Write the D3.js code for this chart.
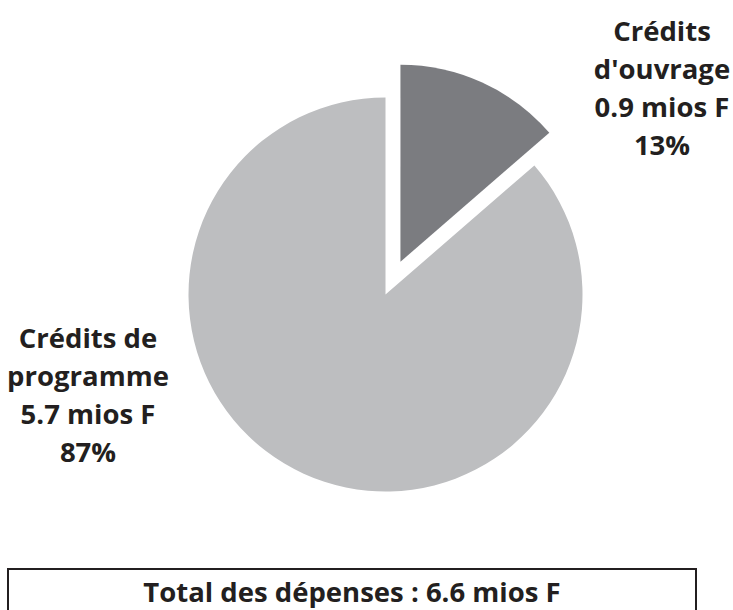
<!DOCTYPE html>
<html>
<head>
<meta charset="utf-8">
<script src="https://cdn.jsdelivr.net/npm/d3@7"></script>
<style>
  body { margin: 0; background: #fff; }
  #chart { width: 733px; height: 610px; }
</style>
</head>
<body>
<div id="chart"></div>
<script>
// data
const categories = ["Crédits d'ouvrage", "Crédits de programme"];
const values = [0.9, 5.7];
const labelLines = [
  ["Crédits", "d'ouvrage", "0.9 mios F", "13%"],
  ["Crédits de", "programme", "5.7 mios F", "87%"]
];
const totalLabel = "Total des dépenses : 6.6 mios F";
const colors = ["#7b7c80", "#bdbec0"];

const width = 733, height = 610;
const cx = 385.5, cy = 294.5, radius = 197,
  explode = 36; // offset of the first slice

const svg = d3.select('#chart').append('svg')
  .attr('width', width)
  .attr('height', height)
  .style('font-family', "'Open Sans', sans-serif")
  .style('font-weight', 'bold');

const pie = d3.pie().sort(null).value(d => d);
const arcs = pie(values);
const arc = d3.arc().innerRadius(0).outerRadius(radius);

const plot = svg.append('g')
  .attr('transform', `translate(${cx},${cy})`);

plot.selectAll('path')
  .data(arcs)
  .enter()
  .append('path')
  .attr('d', arc)
  .attr('fill', (d, i) => colors[i])
  .attr('transform', function(d, i) {
    if (i != 0) return null;
    const mid = (d.startAngle + d.endAngle) / 2;
    return `translate(${Math.sin(mid) * explode},${-Math.cos(mid) * explode})`;
  });

// labels
const labelPos = [{x: 662, y: 41}, {x: 88, y: 348}];
const lineH = 38;

labelLines.forEach(function(lines, i) {
  const t = svg.append('text')
    .attr('text-anchor', 'middle')
    .attr('fill', '#231f20')
    .style('font-size', '27.5px');
  lines.forEach(function(l, j) {
    t.append('tspan')
      .attr('x', labelPos[i].x)
      .attr('y', labelPos[i].y + j * lineH)
      .text(l);
  });
});

// total box
svg.append('rect')
  .attr('x', 8).attr('y', 569)
  .attr('width', 688).attr('height', 60)
  .attr('fill', 'none')
  .attr('stroke', '#231f20')
  .attr('stroke-width', 2);

svg.append('text')
  .attr('x', 352).attr('y', 602)
  .attr('text-anchor', 'middle')
  .attr('fill', '#231f20')
  .style('font-size', '27.5px')
  .text(totalLabel);
</script>
</body>
</html>
